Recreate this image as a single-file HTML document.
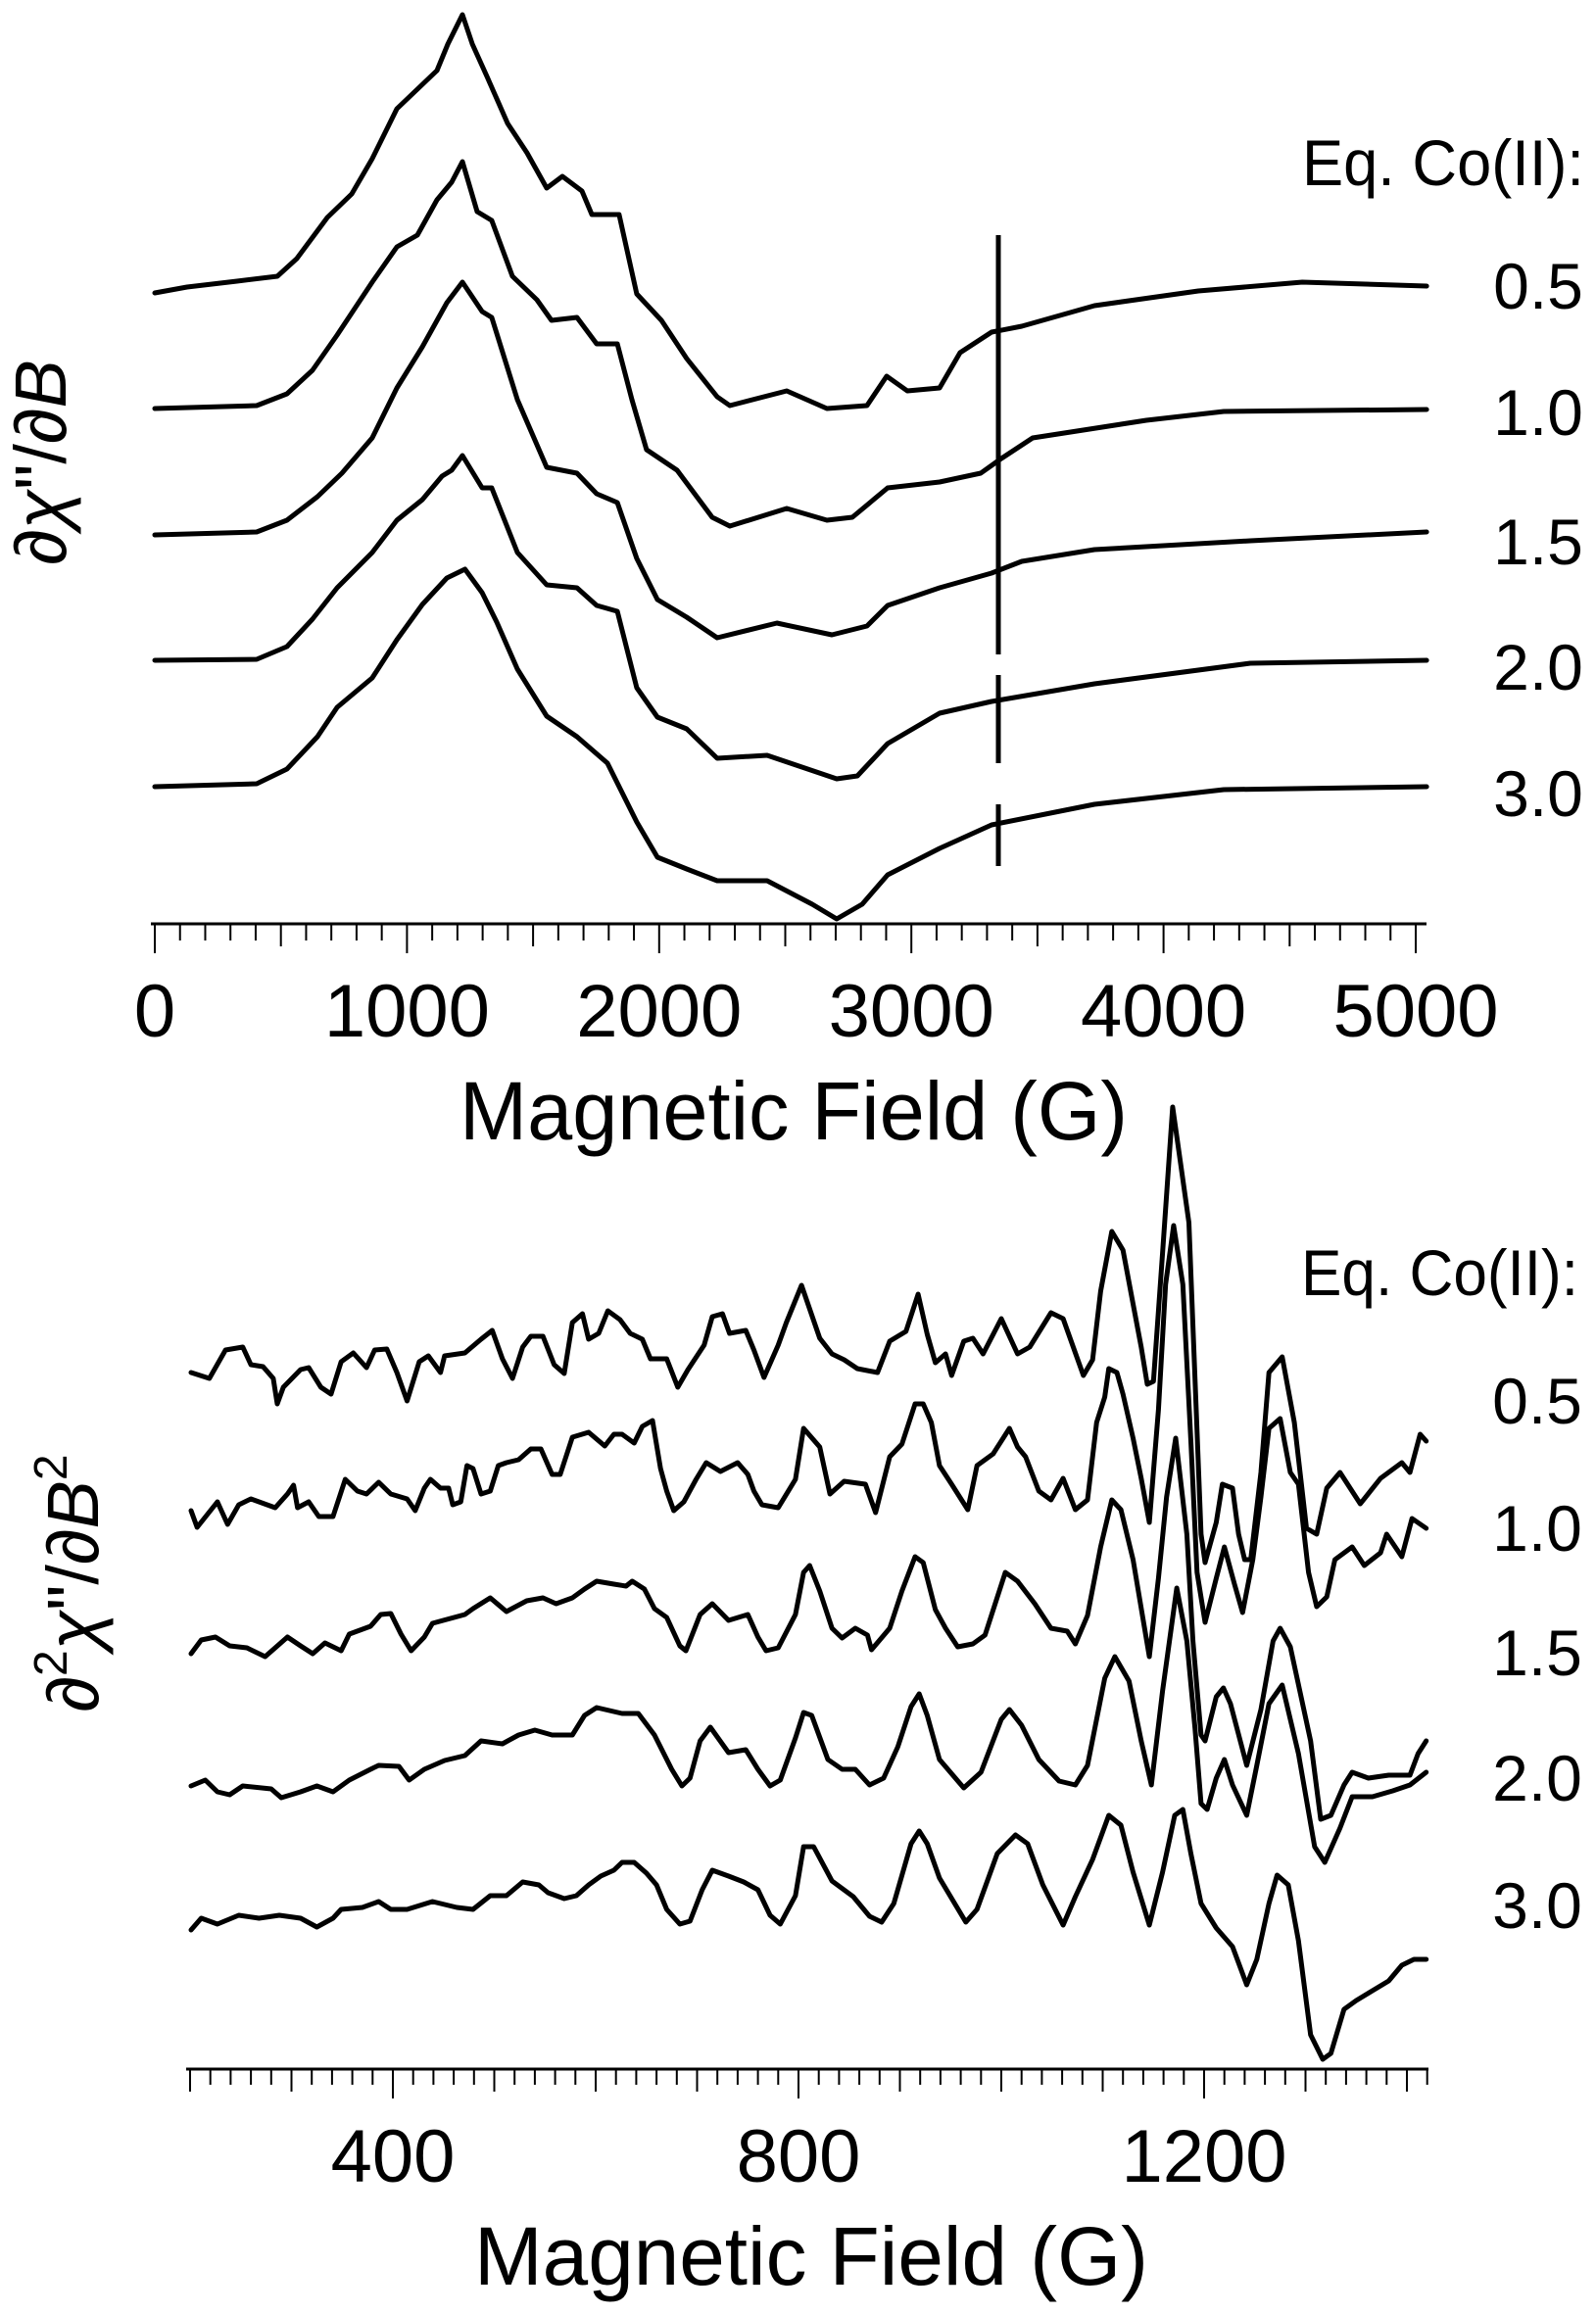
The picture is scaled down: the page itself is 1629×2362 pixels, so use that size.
<!DOCTYPE html>
<html><head><meta charset="utf-8"><style>
html,body{margin:0;padding:0;background:#fff;}
svg{display:block;font-family:"Liberation Sans",sans-serif;}
</style></head><body>
<svg id="chart" width="1629" height="2362" viewBox="0 0 1629 2362" xmlns="http://www.w3.org/2000/svg">
<g id="top"></g>
<g id="bot"></g>
<text transform="translate(67,472) rotate(-90)" text-anchor="middle" font-size="74">∂<tspan font-style="italic">χ</tspan>"/∂<tspan font-style="italic">B</tspan></text>
<text transform="translate(100,1616) rotate(-90)" text-anchor="middle" font-size="74">∂<tspan font-size="48" dy="-32">2</tspan><tspan dy="32" font-style="italic">χ</tspan>"/∂<tspan font-style="italic">B</tspan><tspan font-size="48" dy="-32">2</tspan></text>
<text x="810" y="1163" text-anchor="middle" font-size="84" textLength="682" lengthAdjust="spacingAndGlyphs">Magnetic Field (G)</text>
<text x="828" y="2332" text-anchor="middle" font-size="84" textLength="688" lengthAdjust="spacingAndGlyphs">Magnetic Field (G)</text>
<text x="1329" y="189" font-size="66" textLength="288" lengthAdjust="spacingAndGlyphs">Eq. Co(II):</text>
<text x="1328" y="1322" font-size="66" textLength="283" lengthAdjust="spacingAndGlyphs">Eq. Co(II):</text>
</svg>
<script>
// ---------- data ----------
const labels = ["0.5","1.0","1.5","2.0","3.0"];
// top panel: first derivative, field (G) and signal (arb.) per trace
const topG1 = [0,128,326,486,563,684,781,862,960,1119,1162,1220,1259,1317,1399,1476,1554,1616,1694,1733,1841,1911,2009,2109,2230,2280,2506,2665,2824,2902,2984,3112,3193,3318,3438,3726,4138,4550,5043];
const topV1 = [0,6,12,17,35,77,101,137,188,227,254,284,254,221,173,143,107,119,104,80,80,-1,-28,-67,-106,-115,-100,-118,-115,-85,-100,-97,-61,-40,-34,-13,2,11,7];
const topG2 = [0,404,524,625,723,862,960,1041,1119,1177,1220,1278,1336,1418,1515,1573,1674,1752,1834,1892,1950,2071,2210,2280,2506,2665,2766,2906,3112,3275,3357,3481,3932,4239,5043];
const topV2 = [0,3,15,39,75,129,165,177,213,231,252,201,192,135,111,90,93,66,66,9,-42,-63,-111,-120,-102,-114,-111,-81,-75,-66,-51,-30,-12,-3,-1];
const topG3 = [0,404,524,645,742,862,960,1061,1158,1220,1298,1336,1438,1554,1674,1752,1834,1911,1993,2109,2230,2467,2685,2824,2906,3112,3318,3438,3726,4344,5043];
const topV3 = [0,3,15,39,63,99,150,192,237,258,228,222,138,69,63,42,33,-24,-66,-84,-105,-90,-102,-93,-72,-54,-39,-27,-15,-6,3];
const topG4 = [0,404,524,625,723,862,960,1061,1139,1177,1220,1298,1336,1438,1554,1674,1752,1834,1911,1993,2109,2230,2428,2704,2786,2906,3112,3318,3726,4344,5043];
const topV4 = [0,1,14,42,74,110,143,164,188,194,209,176,176,110,77,74,56,50,-28,-58,-70,-100,-97,-121,-118,-85,-54,-42,-24,-3,0];
const topG5 = [0,404,524,645,723,862,960,1061,1158,1230,1298,1356,1438,1554,1674,1795,1911,1993,2109,2230,2428,2607,2704,2805,2906,3112,3318,3726,4239,5043];
const topV5 = [0,3,18,51,81,111,150,186,213,222,198,168,120,72,51,24,-36,-72,-84,-96,-96,-120,-135,-120,-90,-63,-39,-18,-3,0];
const spikeField = 3345;
const spikeHigh = [59,-3,-4,-15,-18];
const spikeLow = [-121,-133,-122,-105,-81];
const topTicks = [0,1000,2000,3000,4000,5000];

// bottom panel: second derivative
const botG1 = [201,219,235,252,260,272,282,286,292,309,317,329,339,349,361,374,382,394,404,414,426,435,447,451,471,487,498,508,518,528,536,548,559,569,577,587,593,603,612,624,634,646,654,670,681,691,707,715,725,732,748,756,766,780,788,803,821,833,845,858,878,890,906,918,927,935,945,951,963,972,982,1000,1016,1028,1049,1061,1081,1090,1098,1109,1120,1130,1138,1144,1150,1159,1169,1185,1191,1197,1201,1212,1218,1228,1234,1240,1246,1256,1264,1277,1289,1301,1311,1321,1334,1354,1374,1395,1403,1413,1419];
const botV1 = [0,-6,23,26,8,6,-6,-32,-15,3,5,-15,-22,11,20,5,23,24,0,-29,11,17,0,17,20,34,43,14,-6,26,37,37,8,-1,51,60,34,40,63,54,40,34,14,14,-15,3,28,57,60,40,43,23,-5,28,51,89,35,19,13,4,0,32,42,80,39,10,19,-3,32,35,19,55,19,26,61,55,-3,13,83,144,125,70,26,-12,-9,122,271,153,-6,-165,-194,-153,-114,-118,-165,-191,-191,-102,0,16,-51,-159,-165,-118,-102,-134,-108,-92,-102,-63,-70];
const botG2 = [201,207,227,237,248,260,284,296,302,306,317,327,341,353,365,374,386,398,414,422,431,437,447,455,459,467,473,479,487,496,504,512,524,536,546,557,565,577,593,609,618,626,638,646,656,664,670,677,687,699,709,723,740,750,756,764,780,797,805,821,831,845,866,876,890,902,915,923,931,939,951,967,976,992,1008,1016,1024,1037,1049,1061,1073,1085,1094,1102,1106,1114,1120,1130,1138,1146,1155,1162,1170,1179,1187,1193,1201,1212,1220,1230,1238,1248,1256,1264,1275,1285,1293,1303,1311,1321,1329,1346,1358,1374,1380,1395,1405,1419];
const botV2 = [0,-17,9,-14,6,12,3,17,26,3,9,-6,-6,32,20,17,29,17,12,0,23,32,23,23,6,9,46,43,17,20,46,49,52,63,63,37,37,75,80,66,78,78,69,86,92,43,20,0,9,32,49,40,49,37,20,6,3,32,84,65,17,30,27,-2,55,68,109,109,90,46,27,1,46,58,84,65,55,20,11,33,1,11,90,116,145,141,119,74,33,-12,103,231,291,231,71,-63,-114,-69,-37,-75,-104,-50,14,84,94,39,27,-63,-98,-88,-50,-37,-56,-43,-24,-47,-8,-18];
const botG3 = [201,211,225,239,256,274,284,296,309,321,333,349,357,378,388,398,408,418,431,439,471,479,496,512,532,548,561,577,589,601,618,630,636,648,658,670,683,689,703,715,731,750,760,768,780,797,805,811,821,833,843,856,868,872,890,902,915,923,935,945,957,972,984,1004,1016,1033,1049,1065,1073,1085,1098,1109,1118,1130,1146,1155,1163,1172,1183,1189,1197,1201,1212,1219,1226,1242,1256,1268,1275,1285,1305,1315,1325,1338,1346,1362,1382,1403,1411,1419];
const botV3 = [0,14,17,8,6,-3,6,17,8,0,11,3,20,28,40,41,20,3,17,31,40,46,57,43,54,57,51,57,66,74,71,69,74,66,46,37,8,3,40,51,34,40,17,3,6,40,83,90,64,26,16,26,19,4,26,64,99,93,45,26,7,10,19,83,74,51,26,23,10,39,109,157,147,96,-3,77,160,220,122,13,-83,-89,-44,-35,-51,-114,-57,13,26,7,-89,-169,-165,-134,-121,-127,-124,-124,-102,-89];
const botG4 = [201,215,227,239,252,280,290,309,325,341,357,378,386,406,416,431,451,471,487,508,524,540,557,577,589,601,626,642,658,675,685,693,703,713,731,748,760,772,782,797,805,813,829,843,856,870,884,898,911,919,927,939,963,980,1000,1008,1020,1037,1057,1073,1085,1102,1112,1126,1138,1148,1159,1173,1183,1191,1197,1203,1212,1220,1228,1242,1252,1264,1277,1293,1309,1319,1334,1346,1366,1386,1403,1419];
const botV4 = [0,6,-6,-9,0,-3,-12,-6,0,-6,6,17,21,20,6,17,26,31,46,43,52,57,52,52,72,80,74,74,52,17,0,8,46,60,34,37,17,0,6,49,75,72,27,17,17,1,8,40,81,94,72,27,-2,14,68,78,62,27,5,1,21,110,132,107,46,1,97,202,148,59,-18,-24,8,27,1,-30,21,84,103,33,-62,-78,-43,-11,-11,-5,1,14];
const botG5 = [201,211,227,248,268,288,309,325,341,349,370,386,398,414,439,463,479,496,512,528,544,553,569,581,593,605,618,626,638,650,660,670,683,693,705,715,731,746,760,772,782,797,805,815,833,854,870,882,894,911,919,927,939,965,976,996,1014,1026,1041,1061,1073,1090,1106,1118,1130,1146,1159,1171,1179,1187,1197,1212,1228,1242,1252,1264,1272,1283,1293,1305,1317,1325,1338,1350,1366,1382,1395,1407,1419];
const botV5 = [0,12,6,15,12,15,12,3,12,21,23,29,21,21,29,23,21,35,35,49,46,38,32,35,46,55,61,69,69,58,46,21,6,9,41,61,55,49,41,15,6,35,85,85,50,34,14,8,27,88,101,88,53,8,21,78,97,88,46,5,34,72,117,107,59,5,59,117,123,78,27,2,-17,-56,-30,27,56,46,-11,-107,-132,-126,-81,-72,-62,-52,-36,-30,-30];
const botTicks = [400,800,1200];

// ---------- layout ----------
const NS = "http://www.w3.org/2000/svg";
const topBase = [299,417,546,674,803];
const topLabelY = [315,444,576,704,833];
const botBase = [1401,1542,1688,1823,1970];
const botLabelY = [1453,1583,1710,1838,1968];
function xTop(g){ return 158 + g*0.2574; }
function xBot(g){ return 401 + (g-400)*1.035; }
function mk(tag, attrs, parent){ const e=document.createElementNS(NS,tag); for(const k in attrs) e.setAttribute(k,attrs[k]); parent.appendChild(e); return e; }

const topG=[topG1,topG2,topG3,topG4,topG5], topV=[topV1,topV2,topV3,topV4,topV5];
const botGs=[botG1,botG2,botG3,botG4,botG5], botVs=[botV1,botV2,botV3,botV4,botV5];
const topGrp=document.getElementById('top'), botGrp=document.getElementById('bot');

function drawTrace(grp, G, V, base, xf, name){
  let d='';
  for(let i=0;i<G.length;i++){ d += (i?'L':'M') + xf(G[i]).toFixed(1) + ' ' + (base - V[i]).toFixed(1); }
  const p = mk('path',{d:d,fill:'none',stroke:'#000','stroke-width':5,'stroke-linejoin':'round','stroke-linecap':'round'},grp);
  
  
}

for(let t=0;t<5;t++){
  drawTrace(topGrp, topG[t], topV[t], topBase[t], xTop, 'top-trace-'+labels[t]);
  const s = mk('line',{x1:xTop(spikeField),x2:xTop(spikeField),y1:topBase[t]-spikeHigh[t],y2:topBase[t]-spikeLow[t],stroke:'#000','stroke-width':5},topGrp);
  
  
  const lt = mk('text',{x:1570,y:topLabelY[t],'text-anchor':'middle','font-size':66},topGrp);
  lt.textContent = labels[t];
  
  

  drawTrace(botGrp, botGs[t], botVs[t], botBase[t], xBot, 'bottom-trace-'+labels[t]);
  const lb = mk('text',{x:1569,y:botLabelY[t],'text-anchor':'middle','font-size':66},botGrp);
  lb.textContent = labels[t];
  
  
}

// top axis
const ta = mk('line',{x1:154,x2:1456,y1:943,y2:943,stroke:'#000','stroke-width':3},topGrp);


for(let g=0; g<=5000; g+=100){
  const len = g%1000===0 ? 30 : (g%500===0 ? 23 : 17);
  const tk = mk('line',{x1:xTop(g),x2:xTop(g),y1:943,y2:943+len,stroke:'#000','stroke-width':2},topGrp);
  
  
}
topTicks.forEach(v=>{
  const tl = mk('text',{x:xTop(v),y:1058,'text-anchor':'middle','font-size':76},topGrp);
  tl.textContent = String(v);
  
  
});

// bottom axis
const ba = mk('line',{x1:190,x2:1458,y1:2112,y2:2112,stroke:'#000','stroke-width':3},botGrp);


for(let g=200; g<=1420; g+=20){
  const len = g%400===0 ? 30 : (g%100===0 ? 23 : 16);
  const tk = mk('line',{x1:xBot(g),x2:xBot(g),y1:2112,y2:2112+len,stroke:'#000','stroke-width':2},botGrp);
  
  
}
botTicks.forEach(v=>{
  const tl = mk('text',{x:xBot(v),y:2227,'text-anchor':'middle','font-size':76},botGrp);
  tl.textContent = String(v);
  
  
});
</script>
</body></html>
